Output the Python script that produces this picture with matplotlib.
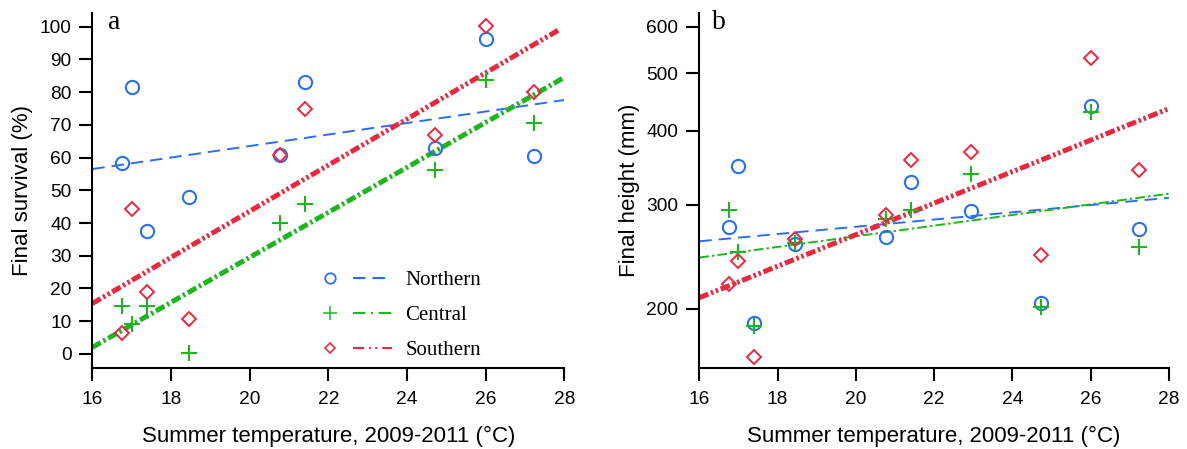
import matplotlib
matplotlib.use('Agg')
import matplotlib.pyplot as plt
from matplotlib.lines import Line2D
from matplotlib.legend_handler import HandlerTuple
from matplotlib.ticker import NullLocator, FixedLocator, FixedFormatter
import numpy as np

plt.rcParams['font.family'] = ['Liberation Sans', 'DejaVu Sans']
plt.rcParams['lines.scale_dashes'] = False

# ---------------- data ----------------
temps = [16.75, 17.0, 17.4, 18.45, 20.76, 21.41, 22.95, 24.72, 26.02, 27.23]

surv_north = [58.5, 81.5, 37.7, 48.1, 60.7, 83.2, np.nan, 62.8, 96.1, 60.6]
surv_central = [14.8, 9.2, 14.8, 0.3, 40.0, 45.9, np.nan, 56.1, 83.7, 70.5]
surv_south = [6.4, 44.3, 18.9, 10.7, 60.7, 74.9, np.nan, 67.0, 100.2, 79.9]

height_north = [275, 349, 189.4, 257.4, 264.1, 327.2, 293.0, 204.2, 440.7, 272.5]
height_central = [293.8, 249.1, 186.9, 258.4, 283.7, 293.8, 338.1, 201.6, 430.6, 254.4]
height_south = [220.2, 241.2, 165.4, 262.7, 287.7, 356.6, 367.9, 246.9, 532.0, 343.4]

# fitted lines (end points)
fit_x = [16, 28]
fit_x_south_a = [16, 27.9]
surv_fit_north = [56.5, 77.6]
surv_fit_central = [2.0, 84.5]
surv_fit_south = [15.4, 99.3]
height_fit_north = [260, 308]
height_fit_central = [244, 313]
height_fit_south = [208.7, 436]

x_ticks = [16, 18, 20, 22, 24, 26, 28]
surv_ticks = [0, 10, 20, 30, 40, 50, 60, 70, 80, 90, 100]
height_ticks = [200, 300, 400, 500, 600]
groups = ['Northern', 'Central', 'Southern']

# ---------------- styles ----------------
C_N = '#2b6ff0'
C_C = '#1fb51f'
C_S = '#e8283f'
LS_N = (0, (9, 5))
LS_C = (0, (7, 2.2, 1.8, 2.2))
LS_S = (0, (7, 2, 1.8, 2, 1.8, 2))

W, H = 1187, 449
fig = plt.figure(figsize=(W / 100, H / 100), dpi=100)
ax_a = fig.add_axes([92.3 / W, (H - 368) / H, (564.3 - 92.3) / W, (368 - 13.3) / H])
ax_b = fig.add_axes([699.3 / W, (H - 368) / H, (1169 - 699.3) / W, (368 - 13.3) / H])

mk = dict(linestyle='none', markerfacecolor='none')

# ----- panel a -----
ax_a.plot(temps, surv_north, marker='o', ms=9.5, mew=1.5, color=C_N, **mk, zorder=3)
ax_a.plot(temps, surv_central, marker='+', ms=11, mew=1.5, color=C_C, **mk, zorder=3)
ax_a.plot(temps, surv_south, marker='D', ms=7, mew=1.4, color=C_S, **mk, zorder=3)
ax_a.plot(fit_x, surv_fit_north, color=C_N, lw=1.4, linestyle=LS_N)
ax_a.plot(fit_x, surv_fit_central, color=C_C, lw=3.6, linestyle=LS_C)
ax_a.plot(fit_x_south_a, surv_fit_south, color=C_S, lw=3.6, linestyle=LS_S)
ax_a.set_xlim(16, 28)
ax_a.set_ylim(-4.3, 104.1)
ax_a.set_yticks(surv_ticks)
ax_a.set_ylabel('Final survival (%)', fontsize=16)

# ----- panel b -----
ax_b.plot(temps, height_north, marker='o', ms=9.5, mew=1.5, color=C_N, **mk, zorder=3)
ax_b.plot(temps, height_central, marker='+', ms=11, mew=1.5, color=C_C, **mk, zorder=3)
ax_b.plot(temps, height_south, marker='D', ms=7, mew=1.4, color=C_S, **mk, zorder=3)
ax_b.plot(fit_x, height_fit_north, color=C_N, lw=1.4, linestyle=LS_N)
ax_b.plot(fit_x, height_fit_central, color=C_C, lw=1.4, linestyle=LS_C)
ax_b.plot(fit_x, height_fit_south, color=C_S, lw=3.6, linestyle=LS_S)
ax_b.set_yscale('log')
ax_b.set_xlim(16, 28)
ax_b.set_ylim(158.7, 632)
ax_b.yaxis.set_major_locator(FixedLocator(height_ticks))
ax_b.yaxis.set_major_formatter(FixedFormatter([str(t) for t in height_ticks]))
ax_b.yaxis.set_minor_locator(NullLocator())
ax_b.set_ylabel('Final height (mm)', fontsize=16)

for ax, lab in ((ax_a, 'a'), (ax_b, 'b')):
    ax.set_xticks(x_ticks)
    ax.set_xlabel('Summer temperature, 2009-2011 (°C)', fontsize=16)
    ax.xaxis.set_label_coords(0.5, -0.163)
    for s in ('top', 'right'):
        ax.spines[s].set_visible(False)
    for s in ('left', 'bottom'):
        ax.spines[s].set_linewidth(1.5)
    ax.tick_params(axis='both', direction='out', length=9.5, width=1.5,
                   labelsize=13.75, color='black')
    ax.tick_params(axis='x', pad=7)
    ax.tick_params(axis='y', pad=5.5)

ax_a.yaxis.set_label_coords(-0.126, 0.5)
ax_b.yaxis.set_label_coords(-0.126, 0.5)

ax_a.text(0.034, 0.955, 'a', transform=ax_a.transAxes, fontsize=20,
          family='Liberation Serif', va='baseline')
ax_b.text(0.027, 0.955, 'b', transform=ax_b.transAxes, fontsize=20,
          family='Liberation Serif', va='baseline')

# ----- legend -----
h_marks = [
    Line2D([], [], marker='o', ms=7.5, mew=1.3, color=C_N, **mk),
    Line2D([], [], marker='+', ms=10, mew=1.1, color=C_C, **mk),
    Line2D([], [], marker='D', ms=5.5, mew=1.2, color=C_S, **mk),
]
h_lines = [
    Line2D([], [], color=C_N, lw=1.5, linestyle=(0, (9, 5))),
    Line2D([], [], color=C_C, lw=1.5, linestyle=(0, (9, 4, 1.5, 4))),
    Line2D([], [], color=C_S, lw=1.5, linestyle=(0, (8, 3.5, 1.5, 3, 1.5, 3.5))),
]
handles = [(m, l) for m, l in zip(h_marks, h_lines)]
ax_a.legend(handles, groups, handler_map={tuple: HandlerTuple(ndivide=None, pad=0.17)},
            loc='lower left', bbox_to_anchor=(0.462, 0.0215), frameon=False,
            prop={'family': 'Liberation Serif', 'size': 15}, numpoints=1,
            handlelength=3.92, handletextpad=0.63, labelspacing=0.74,
            borderpad=0, borderaxespad=0)

fig.savefig('out.png', dpi=100)
